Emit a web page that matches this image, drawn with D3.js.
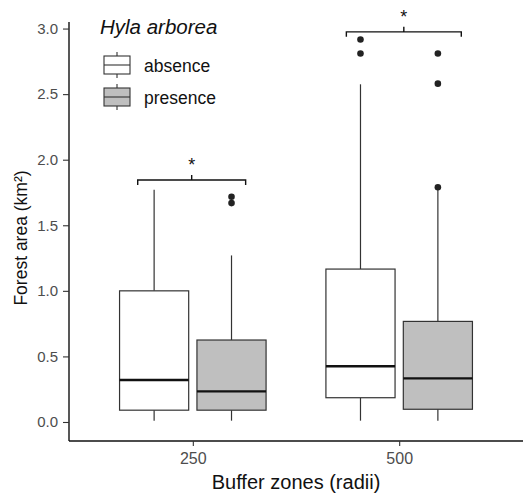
<!DOCTYPE html>
<html>
<head>
<meta charset="utf-8">
<script src="https://cdn.jsdelivr.net/npm/d3@7"></script>
<style>
  body { margin: 0; background: #fff; }
  svg { display: block; font-family: "Liberation Sans", Arial, sans-serif; }
</style>
</head>
<body>
<script>
// buffer zones (x categories) and presence/absence groups
var categories = ["250", "500"];
var groups = ["absence", "presence"];
var groupFill = ["#ffffff", "#bfbfbf"];

// box stats per category (km²)
var absLow = [0.01, 0.01], absQ1 = [0.09, 0.185], absMed = [0.32, 0.425], absQ3 = [1.0, 1.166], absHigh = [1.77, 2.575];
var preLow = [0.01, 0.01], preQ1 = [0.09, 0.097], preMed = [0.234, 0.333], preQ3 = [0.625, 0.767], preHigh = [1.27, 1.77];
var absOut = [[], [2.917, 2.81]];
var preOut = [[1.717, 1.669], [2.81, 2.58, 1.79]];

// significance brackets (x in category units, y in km²)
var bracketFrom = [0.733, 1.744];
var bracketTo = [1.256, 2.301];
var bracketY = [1.845, 2.975];
var bracketLabel = ["*", "*"];

var yTicks = [0, 0.5, 1, 1.5, 2, 2.5, 3];

var width = 524, height = 497;
// note: "top" is taken by window.top, so use other names
var mLeft = 69, mRight = 523, mTop = 22, mBottom = 441;

var svg = d3.select("body").append("svg")
    .attr("width", width)
    .attr("height", height);

var x = d3.scaleLinear().domain([0.4, 2.6]).range([mLeft, mRight]);
var y = d3.scaleLinear().domain([-0.145, 3.05]).range([mBottom, mTop]);

var dodge = 0.1875, boxW = 0.335;

// build box table from the arrays
var boxes = [];
categories.forEach(function(c, i) {
    boxes.push({cat: i + 1, off: -dodge, g: 0, low: absLow[i], q1: absQ1[i], med: absMed[i], q3: absQ3[i], high: absHigh[i], out: absOut[i]});
    boxes.push({cat: i + 1, off: dodge, g: 1, low: preLow[i], q1: preQ1[i], med: preMed[i], q3: preQ3[i], high: preHigh[i], out: preOut[i]});
});

var bx = svg.append("g").selectAll("g").data(boxes).enter().append("g");

bx.append("line")
    .attr("x1", function(d) { return x(d.cat + d.off); })
    .attr("x2", function(d) { return x(d.cat + d.off); })
    .attr("y1", function(d) { return y(d.q3); })
    .attr("y2", function(d) { return y(d.high); })
    .attr("stroke", "#333").attr("stroke-width", 1.2);
bx.append("line")
    .attr("x1", function(d) { return x(d.cat + d.off); })
    .attr("x2", function(d) { return x(d.cat + d.off); })
    .attr("y1", function(d) { return y(d.q1); })
    .attr("y2", function(d) { return y(d.low); })
    .attr("stroke", "#333").attr("stroke-width", 1.2);
bx.append("rect")
    .attr("x", function(d) { return x(d.cat + d.off - boxW / 2); })
    .attr("width", function(d) { return x(boxW) - x(0); })
    .attr("y", function(d) { return y(d.q3); })
    .attr("height", function(d) { return y(d.q1) - y(d.q3); })
    .attr("fill", function(d) { return groupFill[d.g]; })
    .attr("stroke", "#333").attr("stroke-width", 1.2);
bx.append("line")
    .attr("x1", function(d) { return x(d.cat + d.off - boxW / 2); })
    .attr("x2", function(d) { return x(d.cat + d.off + boxW / 2); })
    .attr("y1", function(d) { return y(d.med); })
    .attr("y2", function(d) { return y(d.med); })
    .attr("stroke", "#111").attr("stroke-width", 2.3);
bx.selectAll("circle").data(function(d) { return d.out.map(function(v) { return {x: d.cat + d.off, v: v}; }); })
    .enter().append("circle")
    .attr("cx", function(d) { return x(d.x); })
    .attr("cy", function(d) { return y(d.v); })
    .attr("r", 3.3)
    .attr("fill", "#222");

// axes
var yAxis = d3.axisLeft(y).tickValues(yTicks).tickFormat(d3.format(".1f")).tickSize(6).tickPadding(5);
var xAxis = d3.axisBottom(x).tickValues([1, 2]).tickFormat(function(d) { return categories[d - 1]; }).tickSize(5).tickPadding(7);

var ya = svg.append("g").attr("transform", "translate(" + mLeft + ",0)").call(yAxis);
var xa = svg.append("g").attr("transform", "translate(0," + mBottom + ")").call(xAxis);
[ya, xa].forEach(function(a) {
    a.select(".domain").attr("stroke", "#111").attr("stroke-width", 1.4);
    a.selectAll(".tick line").attr("stroke", "#333").attr("stroke-width", 1.1);
    a.selectAll(".tick text").attr("fill", "#4d4d4d").style("font-size", "15px").style("font-family", "Liberation Sans, Arial, sans-serif");
});
xa.selectAll(".tick text").style("font-size", "16px");
ya.select(".domain").attr("d", "M0," + mTop + "V" + mBottom);
xa.select(".domain").attr("d", "M" + mLeft + ",0H" + mRight);

svg.append("text")
    .attr("transform", "translate(21,238) rotate(-90)")
    .attr("text-anchor", "middle")
    .attr("dominant-baseline", "central")
    .style("font-size", "17.5px")
    .attr("fill", "#111")
    .text("Forest area (km²)");
svg.append("text")
    .attr("x", 296).attr("y", 489)
    .attr("text-anchor", "middle")
    .style("font-size", "20px")
    .attr("fill", "#111")
    .text("Buffer zones (radii)");

// significance brackets
var br = svg.append("g").selectAll("g").data(bracketY).enter().append("g");
br.append("path")
    .attr("d", function(d, i) {
        var x1 = x(bracketFrom[i]), x2 = x(bracketTo[i]), yy = y(d), xm = (x1 + x2) / 2;
        return "M" + x1 + "," + (yy + 5) + "V" + yy + "H" + x2 + "V" + (yy + 5) + "M" + xm + "," + yy + "V" + (yy - 5);
    })
    .attr("fill", "none").attr("stroke", "#111").attr("stroke-width", 1.4);
br.append("text")
    .attr("x", function(d, i) { return x((bracketFrom[i] + bracketTo[i]) / 2); })
    .attr("y", function(d) { return y(d) - 9; })
    .attr("text-anchor", "middle")
    .style("font-size", "18px")
    .attr("fill", "#111")
    .text(function(d, i) { return bracketLabel[i]; });

// legend
var leg = svg.append("g");
leg.append("text")
    .attr("x", 100).attr("y", 34)
    .style("font-size", "20.5px").style("font-style", "italic")
    .attr("fill", "#111")
    .text("Hyla arborea");
var li = leg.selectAll(".key").data(groups).enter().append("g")
    .attr("transform", function(d, i) { return "translate(104," + (65 + i * 32) + ")"; });
li.append("line").attr("x1", 13).attr("x2", 13).attr("y1", -13).attr("y2", 13)
    .attr("stroke", "#333").attr("stroke-width", 1.1);
li.append("rect").attr("x", 0).attr("y", -9).attr("width", 26).attr("height", 18)
    .attr("fill", function(d, i) { return groupFill[i]; })
    .attr("stroke", "#333").attr("stroke-width", 1.1);
li.append("line").attr("x1", 0).attr("x2", 26).attr("y1", 0).attr("y2", 0)
    .attr("stroke", "#333").attr("stroke-width", 1.1);
li.append("text")
    .attr("x", 40).attr("y", 1)
    .attr("dominant-baseline", "central")
    .style("font-size", "17.5px")
    .attr("fill", "#111")
    .text(function(d) { return d; });
</script>
</body>
</html>
